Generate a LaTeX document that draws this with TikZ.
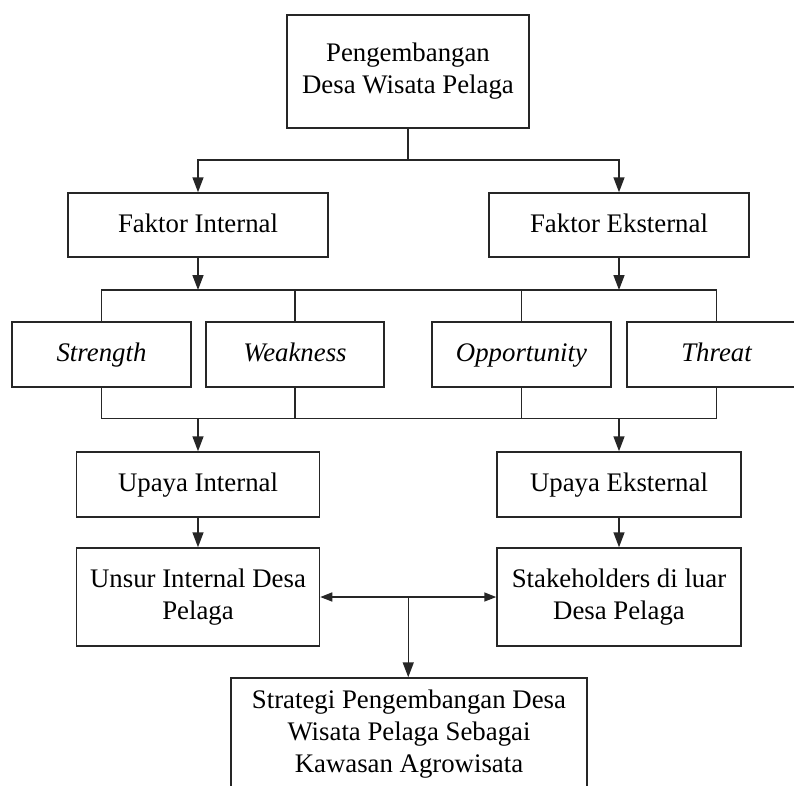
\documentclass[tikz,border=0pt]{standalone}
\usepackage{fontspec}
\setmainfont{Liberation Serif}
\usetikzlibrary{arrows.meta,calc}
\begin{document}
\begin{tikzpicture}[x=1pt,y=-1pt,
  box/.style={draw=black!85, line width=1.5pt, inner sep=0pt, align=center,
    font=\fontsize{26.8}{32}\selectfont},
  one/.style={text height=19pt, text depth=5pt},
  conn/.style={draw=black!85, line width=1.5pt},
  arr/.style={conn, -{Triangle[length=15pt,width=11pt]}},
  darr/.style={conn, {Triangle[length=12pt,width=9pt]}-{Triangle[length=12pt,width=9pt]}}]
\clip (0,0) rectangle (794,785);
\useasboundingbox (0,0) rectangle (794,785);
\fill[white] (0,0) rectangle (794,785);
% nodes
\node[box, minimum width=242pt, minimum height=113pt] (top) at (408,71.5) {Pengembangan\\Desa Wisata Pelaga};
\node[box, one, minimum width=260pt, minimum height=64pt] (fi) at (198,225) {Faktor Internal};
\node[box, one, minimum width=260pt, minimum height=64pt] (fe) at (619,225) {Faktor Eksternal};
\node[box, one, minimum width=179pt, minimum height=65pt] (str) at (101.5,354.5) {\itshape Strength};
\node[box, one, minimum width=178pt, minimum height=65pt] (weak) at (295,354.5) {\itshape Weakness};
\node[box, one, minimum width=179pt, minimum height=65pt] (opp) at (521.5,354.5) {\itshape Opportunity};
\node[box, one, minimum width=179pt, minimum height=65pt] (thr) at (716.5,354.5) {\itshape Threat};
\node[box, one, minimum width=243pt, minimum height=65pt] (ui) at (198,484.5) {Upaya Internal};
\node[box, one, minimum width=244pt, minimum height=65pt] (ue) at (619,484.5) {Upaya Eksternal};
\node[box, minimum width=243pt, minimum height=98pt] (uidp) at (198,597) {Unsur Internal Desa\\Pelaga};
\node[box, minimum width=244pt, minimum height=98pt] (sdp) at (619,597) {Stakeholders di luar\\Desa Pelaga};
\node[box, minimum width=356pt, minimum height=112pt] (strat) at (409,734) {Strategi Pengembangan Desa\\Wisata Pelaga Sebagai\\Kawasan Agrowisata};
% levels
\coordinate (h1) at (0,160);
\coordinate (h2) at (0,290);
\coordinate (h3) at (0,418.5);
% connectors
\draw[conn] (top.south) -- (top.south |- h1);
\draw[arr] (top.south |- h1) -| (fi.north);
\draw[arr] (top.south |- h1) -| (fe.north);
\draw[arr] (fi.south) -- (fi.south |- h2);
\draw[arr] (fe.south) -- (fe.south |- h2);
\draw[conn] (str.north) -- (str.north |- h2) -- (thr.north |- h2) -- (thr.north);
\draw[conn] (weak.north) -- (weak.north |- h2);
\draw[conn] (opp.north) -- (opp.north |- h2);
\draw[conn] (str.south) -- (str.south |- h3) -- (thr.south |- h3) -- (thr.south);
\draw[conn] (weak.south) -- (weak.south |- h3);
\draw[conn] (opp.south) -- (opp.south |- h3);
\draw[arr] (ui.north |- h3) -- (ui.north);
\draw[arr] (ue.north |- h3) -- (ue.north);
\draw[arr] (ui.south) -- (uidp.north);
\draw[arr] (ue.south) -- (sdp.north);
\draw[darr] (uidp.east) -- (sdp.west);
\coordinate (mid) at ($(uidp.east)!0.5!(sdp.west)$);
\draw[arr] (mid) -- (mid |- strat.north);
\end{tikzpicture}
\end{document}
